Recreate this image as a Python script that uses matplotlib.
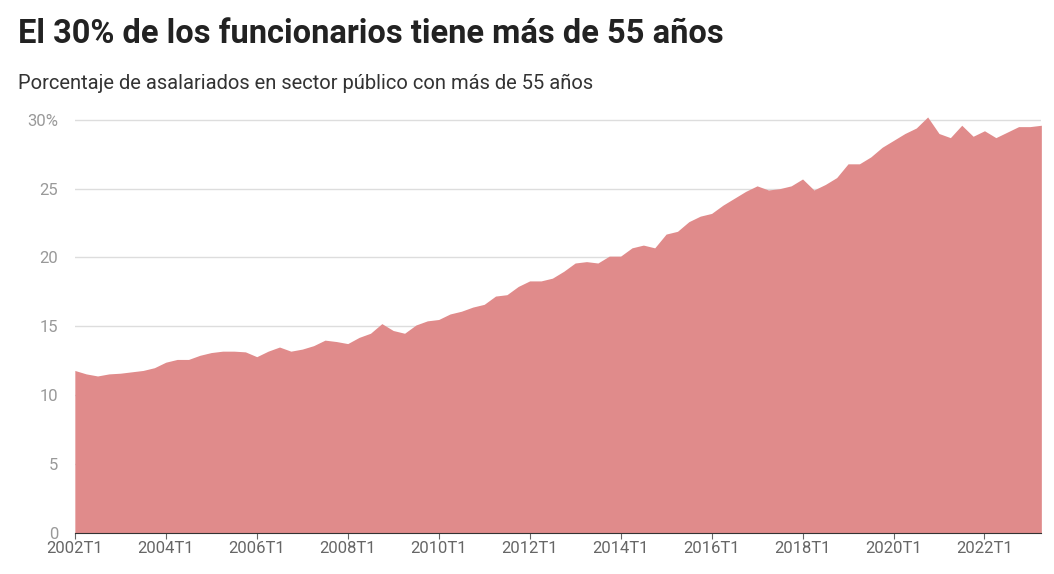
import matplotlib as mpl
mpl.use('Agg')
import matplotlib.pyplot as plt
import numpy as np

plt.rcParams['font.family'] = ['Roboto', 'DejaVu Sans']

values = [11.8, 11.55, 11.4, 11.55, 11.6, 11.7, 11.8, 12.0,
          12.4, 12.6, 12.6, 12.9, 13.1, 13.2, 13.2, 13.15,
          12.8, 13.2, 13.5, 13.2, 13.35, 13.6, 14.0, 13.9,
          13.75, 14.2, 14.5, 15.2, 14.7, 14.5, 15.1, 15.4,
          15.5, 15.9, 16.1, 16.4, 16.6, 17.2, 17.3, 17.9,
          18.3, 18.3, 18.5, 19.0, 19.6, 19.7, 19.6, 20.1,
          20.1, 20.7, 20.9, 20.7, 21.7, 21.9, 22.6, 23.0,
          23.2, 23.8, 24.3, 24.8, 25.2, 24.9, 25.0, 25.2,
          25.7, 24.9, 25.3, 25.8, 26.8, 26.8, 27.3, 28.0,
          28.5, 29.0, 29.4, 30.2, 29.0, 28.7, 29.6, 28.8,
          29.2, 28.7, 29.1, 29.5, 29.5, 29.6]
years = list(range(2002, 2024, 2))
tick_labels = [f"{y}T1" for y in years]

x = np.arange(len(values))
fig = plt.figure(figsize=(10.54, 5.74), dpi=100)
ax = fig.add_axes([0.071, 0.0714, 0.917, 0.744])
ax.fill_between(x, values, 0, color='#e08b8b', lw=0, zorder=2)
ax.set_xlim(0, len(values) - 1)
ax.set_ylim(0, 31)
ax.set_yticks([0, 5, 10, 15, 20, 25, 30])
ax.set_yticklabels(['0', '5', '10', '15', '20', '25', '30%'])
ax.set_xticks([(y - 2002) * 4 for y in years])
ax.set_xticklabels(tick_labels)
ax.grid(axis='y', color='#dddddd', lw=1, zorder=0)
ax.set_axisbelow(True)
for s in ['top', 'right', 'left']:
    ax.spines[s].set_visible(False)
ax.spines['bottom'].set_color('#333333')
ax.tick_params(axis='y', length=0, labelsize=12, colors='#999999', pad=12)
ax.tick_params(axis='x', length=4, labelsize=12, colors='#666666', pad=2)

fig.text(0.017, 0.925, "El 30% de los funcionarios tiene más de 55 años",
         fontsize=23.5, fontweight='bold', color='#222222')
fig.text(0.017, 0.845, "Porcentaje de asalariados en sector público con más de 55 años",
         fontsize=14.5, color='#333333')
fig.savefig('out.png')
